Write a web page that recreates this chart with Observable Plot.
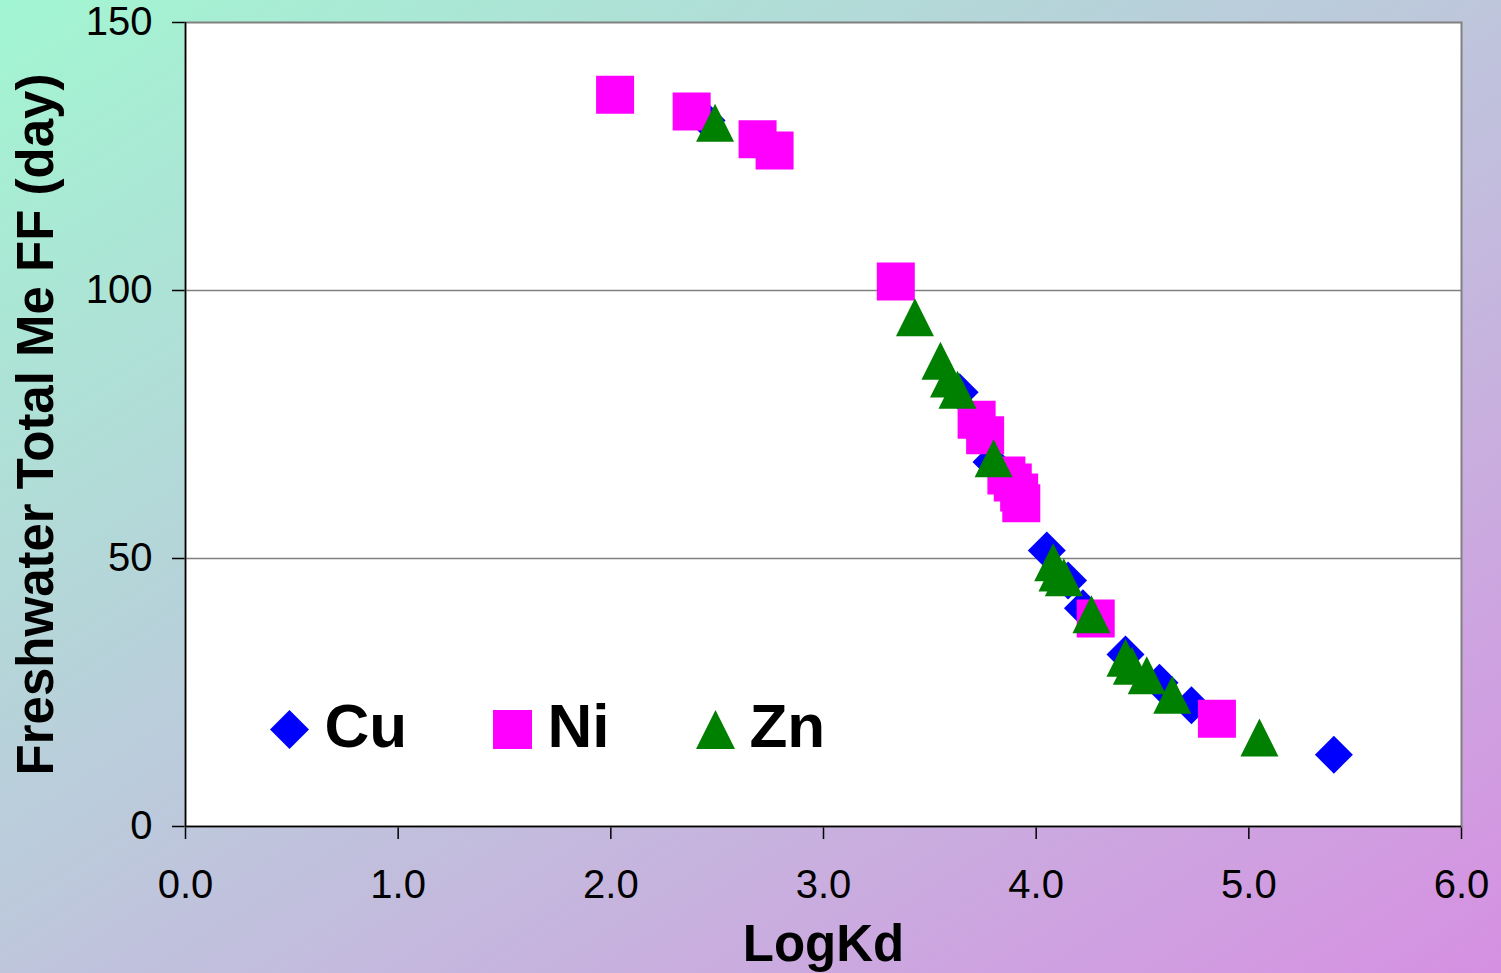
<!DOCTYPE html>
<html>
<head>
<meta charset="utf-8">
<script src="https://cdn.jsdelivr.net/npm/d3@7"></script>
<script src="https://cdn.jsdelivr.net/npm/@observablehq/plot@0.6"></script>
<style>
  html, body { margin: 0; padding: 0; }
  body {
    width: 1501px; height: 973px; overflow: hidden;
    background: linear-gradient(to bottom right, #a2f6d2 0%, #bec6dc 50%, #d690e2 100%);
  }
  #chart svg { display: block; }
  #chart [aria-label="x-axis tick"] path, #chart [aria-label="y-axis tick"] path { stroke-width: 1.5; }
</style>
</head>
<body>
<div id="chart"></div>
<script>
const seriesNames = ["Cu", "Ni", "Zn"];
const seriesColors = ["#0000ff", "#ff00ff", "#008000"];

const cuLogKd = [2.45, 3.64, 3.79, 4.05, 4.15, 4.22, 4.42, 4.58, 4.73, 5.40];
const cuFF    = [131.7, 81.0, 68.0, 51.5, 45.9, 40.7, 32.1, 26.8, 22.6, 13.4];

const niLogKd = [2.02, 2.38, 2.69, 2.77, 3.34, 3.72, 3.76, 3.86, 3.89, 3.92, 3.93, 4.28, 4.85];
const niFF    = [136.5, 133.4, 128.2, 126.1, 101.7, 75.9, 73.0, 65.5, 64.2, 62.3, 60.3, 38.8, 20.1];

const znLogKd = [2.49, 3.43, 3.55, 3.59, 3.63, 3.80, 4.08, 4.10, 4.13, 4.26, 4.42, 4.45, 4.52, 4.64, 5.05];
const znFF    = [131.3, 95.0, 86.9, 83.6, 81.5, 68.7, 49.3, 47.4, 46.5, 39.6, 31.5, 30.0, 28.2, 24.6, 16.6];

const xTicks = [0, 1, 2, 3, 4, 5, 6];
const yTicks = [0, 50, 100, 150];
const gridValues = [50, 100];

// Excel-like marker shapes (width == height)
const diamondSym = {draw(ctx, size) { const r = Math.sqrt(size / Math.PI);
  ctx.moveTo(0, -r); ctx.lineTo(r, 0); ctx.lineTo(0, r); ctx.lineTo(-r, 0); ctx.closePath(); }};
const squareSym = {draw(ctx, size) { const r = Math.sqrt(size / Math.PI);
  ctx.moveTo(-r, -r); ctx.lineTo(r, -r); ctx.lineTo(r, r); ctx.lineTo(-r, r); ctx.closePath(); }};
const triangleSym = {draw(ctx, size) { const r = Math.sqrt(size / Math.PI);
  ctx.moveTo(0, -r); ctx.lineTo(r, r); ctx.lineTo(-r, r); ctx.closePath(); }};
const symbols = [diamondSym, squareSym, triangleSym];

const toRows = (xs, ys) => xs.map((x, i) => ({x, y: ys[i]}));
const seriesData = [toRows(cuLogKd, cuFF), toRows(niLogKd, niFF), toRows(znLogKd, znFF)];

const legendDx = [104, 327, 530];
const legendTextDx = [139, 362, 564];

const marks = [
  Plot.frame({fill: "white", stroke: "#808080", strokeWidth: 2}),
  Plot.ruleY(gridValues, {stroke: "#808080", strokeWidth: 1.5}),
  Plot.ruleX([0], {stroke: "black", strokeWidth: 1.5}),
  Plot.ruleY([0], {stroke: "black", strokeWidth: 1.5}),
];
seriesData.forEach((rows, i) => {
  marks.push(Plot.dot(rows, {x: "x", y: "y", r: 19, symbol: symbols[i], fill: seriesColors[i], stroke: "none"}));
});
seriesNames.forEach((name, i) => {
  marks.push(Plot.dot([name], {frameAnchor: "bottom-left", dx: legendDx[i], dy: -97, r: 19.5, symbol: symbols[i], fill: seriesColors[i], stroke: "none"}));
  marks.push(Plot.text([name], {frameAnchor: "bottom-left", text: d => d, dx: legendTextDx[i], dy: -99, textAnchor: "start", lineAnchor: "middle", fontSize: 62, fontWeight: "bold", fill: "black"}));
});
marks.push(Plot.text(["LogKd"], {frameAnchor: "bottom", text: d => d, dy: 118, textAnchor: "middle", lineAnchor: "middle", fontSize: 51, fontWeight: "bold", fill: "black"}));
marks.push(Plot.text(["Freshwater Total Me FF (day)"], {frameAnchor: "left", text: d => d, dx: -149, rotate: -90, textAnchor: "middle", lineAnchor: "middle", fontSize: 51, fontWeight: "bold", fill: "black"}));

const chart = Plot.plot({
  width: 1501,
  height: 973,
  marginLeft: 185,
  marginRight: 40,
  marginTop: 22,
  marginBottom: 147,
  style: {background: "transparent", fontFamily: "'Liberation Sans', Arial, sans-serif", fontSize: "40px", color: "black", overflow: "visible"},
  x: {domain: [0, 6], ticks: xTicks, tickFormat: d3.format(".1f"), tickSize: 13, tickPadding: 30, label: null},
  y: {domain: [0, 150], ticks: yTicks, tickSize: 13, tickPadding: 20, label: null},
  marks
});
document.getElementById("chart").appendChild(chart);
</script>
</body>
</html>
